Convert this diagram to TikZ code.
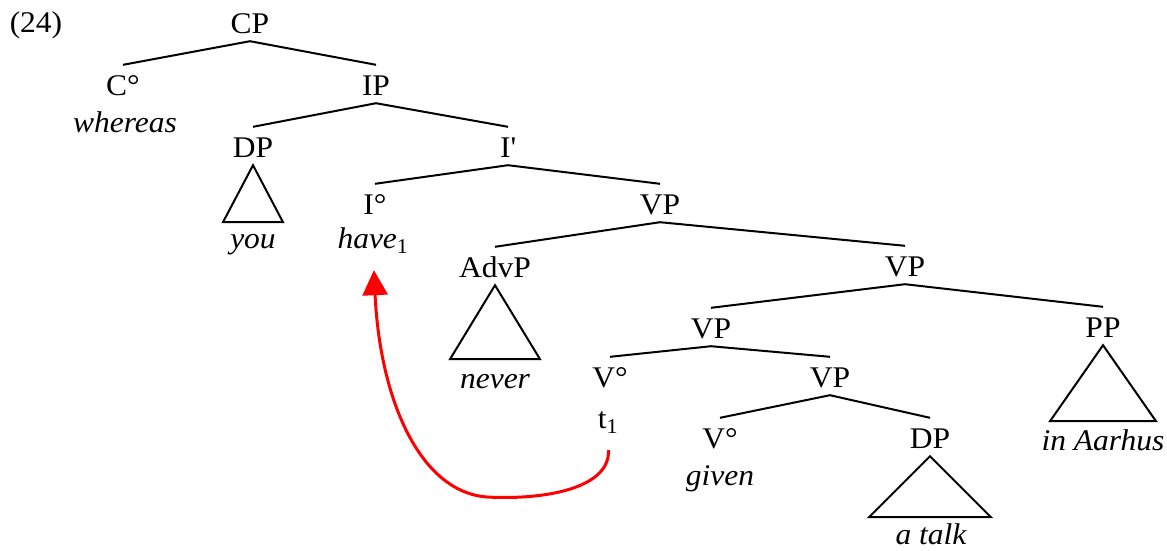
\documentclass[tikz,border=0pt]{standalone}
\usepackage{fontspec}
\setmainfont{Liberation Serif}[FakeStretch=1.05]
\usetikzlibrary{arrows.meta}
\begin{document}
\begin{tikzpicture}[x=1pt,y=-1pt,
  cat/.style={font=\fontsize{30}{34}\selectfont, anchor=base, text height=22pt, text depth=0pt, inner xsep=0pt, inner ysep=8pt},
  word/.style={font=\fontsize{30}{34}\selectfont\itshape, anchor=base, text height=20pt, text depth=0pt, inner xsep=0pt, inner ysep=2pt},
  branch/.style={line width=2pt},
  tri/.style={line width=2pt, line join=miter},
  move/.style={red, line width=3pt, -{Triangle[length=25pt,width=25pt]}, shorten <=14pt, shorten >=20pt}]
\useasboundingbox (0,0) rectangle (1167,550);
\node[cat] (n24) at (36,32) {(24)};
\node[cat] (CP) at (250,33) {CP};
\node[cat] (C) at (123,95) {C°};
\node[word] (whereas) at (125,132) {whereas};
\node[cat] (IP) at (376,95) {IP};
\node[cat] (DPa) at (253,157) {DP};
\node[word] (you) at (253,248) {you};
\node[cat] (Ibar) at (508,157) {I\textquotesingle};
\node[cat] (I) at (375,214) {I°};
\node[word] (have) at (373,248) {have\textsubscript{\upshape 1}};
\node[cat] (VPa) at (660,214) {VP};
\node[cat] (AdvP) at (495,277) {AdvP};
\node[word] (never) at (495,388) {never};
\node[cat] (VPb) at (905,276) {VP};
\node[cat] (VPc) at (711,338) {VP};
\node[cat] (PP) at (1103,337) {PP};
\node[word] (inAarhus) at (1103,450) {in Aarhus};
\node[cat] (Va) at (610,387) {V°};
\node[cat] (t) at (608,428) {t\textsubscript{1}};
\node[cat] (VPd) at (830,387) {VP};
\node[cat] (Vb) at (720,448) {V°};
\node[word] (given) at (720,485) {given};
\node[cat] (DPb) at (930,448) {DP};
\node[word] (atalk) at (931,544) {a talk};
\draw[branch] (C.north) -- (CP.south) -- (IP.north);
\draw[branch] (DPa.north) -- (IP.south) -- (Ibar.north);
\draw[branch] (I.north) -- (Ibar.south) -- (VPa.north);
\draw[branch] (AdvP.north) -- (VPa.south) -- (VPb.north);
\draw[branch] (VPc.north) -- (VPb.south) -- (PP.north);
\draw[branch] (Va.north) -- (VPc.south) -- (VPd.north);
\draw[branch] (Vb.north) -- (VPd.south) -- (DPb.north);
\draw[tri] (DPa.south) -- ++(-30,57) -- ++(60,0) -- cycle;
\draw[tri] (AdvP.south) -- ++(-45,74) -- ++(90,0) -- cycle;
\draw[tri] (PP.south) -- ++(-53,76) -- ++(106,0) -- cycle;
\draw[tri] (DPb.south) -- ++(-61,61) -- ++(122,0) -- cycle;
\draw[move] (t.south) .. controls (610,490) and (540,500) .. (487,497)
  .. controls (420,492) and (380,400) .. (have.south);
\end{tikzpicture}
\end{document}
